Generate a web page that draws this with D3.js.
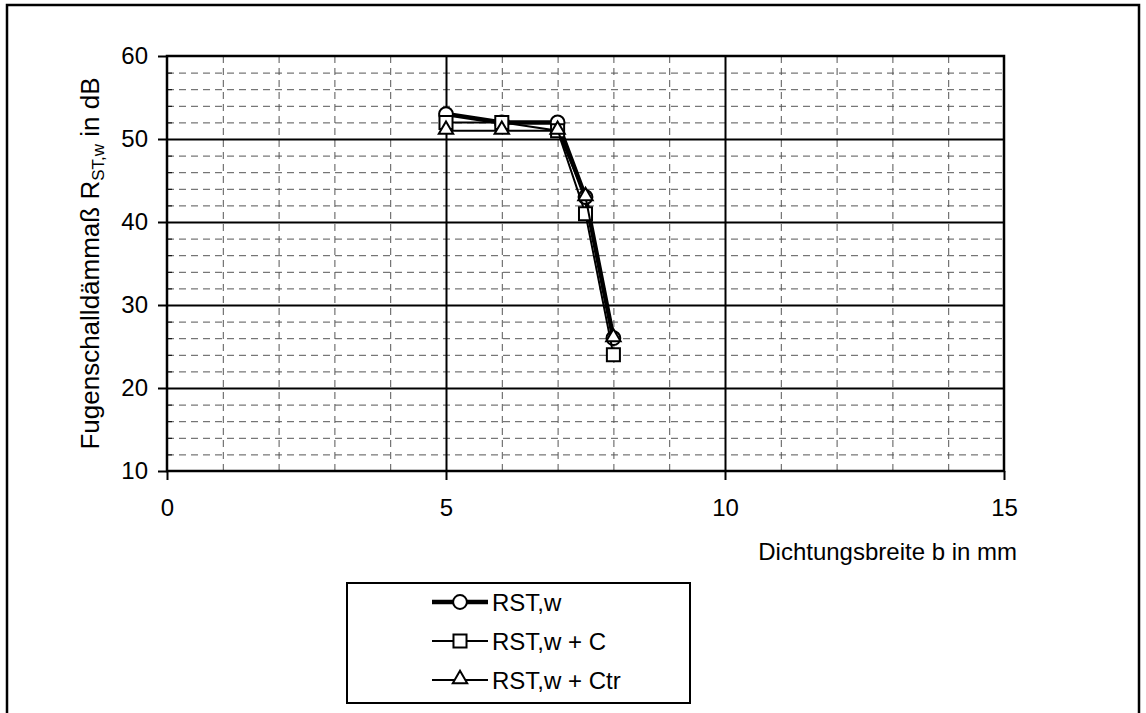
<!DOCTYPE html>
<html>
<head>
<meta charset="UTF-8">
<title>Fugenschalldämmaß</title>
<script src="https://cdn.jsdelivr.net/npm/d3@7"></script>
<style>
body { margin:0; background:#fff; }
svg text { font-family: "Liberation Sans", Arial, sans-serif; fill:#000; }
.axis path, .axis line { stroke:#000; }
.grid-minor line { stroke:#555; stroke-dasharray:7,5; stroke-width:1; }
.grid-minor path, .grid-major path { display:none; }
.grid-major line { stroke:#000; stroke-width:2; }
</style>
</head>
<body>
<div id="chart"></div>
<script>

// data
var breite = [5, 6, 7, 7.5, 8];
var rstw   = [53, 52, 52, 43, 26];
var rstwC  = [52, 52, 51, 41, 24];
var rstwCtr = [51, 51, 51, 43, 26];

var seriesNames = ['RST,w', 'RST,w + C', 'RST,w + Ctr'];
var xTicks = [0, 5, 10, 15];
var yTicks = [10, 20, 30, 40, 50, 60];

var W = 1146, H = 713;
var margin = {top: 56, left: 167, right: W - 1004, bottom: H - 471};
var width = W - margin.left - margin.right,
    height = H - margin.top - margin.bottom;

var svg = d3.select('#chart').append('svg')
    .attr('width', W)
    .attr('height', H);

// outer frame
svg.append('rect')
    .attr('x', 7).attr('y', 5)
    .attr('width', 1132).attr('height', 720)
    .attr('fill', 'none')
    .attr('stroke', '#000')
    .attr('stroke-width', 2.5);

var xScale = d3.scaleLinear().domain([0, 15]).range([0, width]);
var yScale = d3.scaleLinear().domain([10, 60]).range([height, 0]);

var g = svg.append('g')
    .attr('transform', 'translate(' + margin.left + ',' + margin.top + ')');

// minor dashed grid
var xMinor = d3.range(1, 15).filter(function(d){ return d % 5 !== 0; });
var yMinor = d3.range(12, 60, 2).filter(function(d){ return d % 10 !== 0; });

g.append('g').attr('class', 'grid-minor')
    .attr('transform', 'translate(0,' + height + ')')
    .call(d3.axisBottom(xScale).tickValues(xMinor).tickSize(-height).tickFormat(''));
g.append('g').attr('class', 'grid-minor')
    .call(d3.axisLeft(yScale).tickValues(yMinor).tickSize(-width).tickFormat(''));

// major solid grid
g.append('g').attr('class', 'grid-major')
    .attr('transform', 'translate(0,' + height + ')')
    .call(d3.axisBottom(xScale).tickValues([5, 10]).tickSize(-height).tickFormat(''));
g.append('g').attr('class', 'grid-major')
    .call(d3.axisLeft(yScale).tickValues([20, 30, 40, 50]).tickSize(-width).tickFormat(''));

// plot border
g.append('rect')
    .attr('width', width).attr('height', height)
    .attr('fill', 'none')
    .attr('stroke', '#000')
    .attr('stroke-width', 2.5);

// small inside ticks on y axis
g.append('g').attr('class', 'axis')
    .call(d3.axisRight(yScale).tickValues(yMinor).tickSize(5).tickFormat(''))
    .select('.domain').remove();

var xAxis = g.append('g').attr('class', 'axis x')
    .attr('transform', 'translate(0,' + height + ')')
    .call(d3.axisBottom(xScale).tickValues(xTicks).tickSize(9).tickPadding(19));
xAxis.select('.domain').remove();
xAxis.selectAll('line').attr('stroke-width', 2);
xAxis.selectAll('text').style('font-size', '24px');

var yAxis = g.append('g').attr('class', 'axis y')
    .call(d3.axisLeft(yScale).tickValues(yTicks).tickSize(9).tickPadding(10));
yAxis.select('.domain').remove();
yAxis.selectAll('line').attr('stroke-width', 2);
yAxis.selectAll('text').style('font-size', '24px');

// axis titles
svg.append('text')
    .attr('x', 1017).attr('y', 560)
    .attr('text-anchor', 'end')
    .style('font-size', '24px')
    .text('Dichtungsbreite b in mm');

var yTitle = svg.append('text')
    .attr('transform', 'translate(99,' + (margin.top + height / 2) + ') rotate(-90)')
    .attr('text-anchor', 'middle')
    .style('font-size', '26px');
yTitle.append('tspan').text('Fugenschalldämmaß R');
yTitle.append('tspan').attr('dy', 5).style('font-size', '17px').text('ST,w');
yTitle.append('tspan').attr('dy', -5).text(' in dB');

// series
var series = [
    {name: seriesNames[0], values: rstw, width: 4.5, symbol: d3.symbolCircle, size: 150},
    {name: seriesNames[1], values: rstwC, width: 2, symbol: d3.symbolSquare, size: 170},
    {name: seriesNames[2], values: rstwCtr, width: 2, symbol: d3.symbolTriangle, size: 90}
];

var line = d3.line()
    .x(function(d){ return xScale(d[0]); })
    .y(function(d){ return yScale(d[1]); });

series.forEach(function(s){
    var pts = breite.map(function(b, i){ return [b, s.values[i]]; });
    var sg = g.append('g');
    sg.append('path')
        .attr('d', line(pts))
        .attr('fill', 'none')
        .attr('stroke', '#000')
        .attr('stroke-width', s.width);
    sg.selectAll('path.mark')
        .data(pts)
        .enter()
        .append('path')
        .attr('class', 'mark')
        .attr('d', d3.symbol().type(s.symbol).size(s.size))
        .attr('transform', function(d){
            var dy = s.symbol === d3.symbolTriangle ? -1 : 0;
            return 'translate(' + xScale(d[0]) + ',' + (yScale(d[1]) + dy) + ')';
        })
        .attr('fill', '#fff')
        .attr('stroke', '#000')
        .attr('stroke-width', 2);
});

// legend
var legend = svg.append('g').attr('transform', 'translate(347,583)');
legend.append('rect')
    .attr('width', 343).attr('height', 120)
    .attr('fill', '#fff')
    .attr('stroke', '#000')
    .attr('stroke-width', 2);

series.forEach(function(s, i){
    var row = legend.append('g').attr('transform', 'translate(0,' + (19 + i * 39) + ')');
    row.append('line')
        .attr('x1', 85).attr('x2', 141)
        .attr('stroke', '#000')
        .attr('stroke-width', s.width);
    row.append('path')
        .attr('d', d3.symbol().type(s.symbol).size(s.size))
        .attr('transform', 'translate(113,' + (s.symbol === d3.symbolTriangle ? -1 : 0) + ')')
        .attr('fill', '#fff')
        .attr('stroke', '#000')
        .attr('stroke-width', 2);
    row.append('text')
        .attr('x', 145).attr('y', 9)
        .style('font-size', '24px')
        .text(s.name);
});
</script>
</body>
</html>
